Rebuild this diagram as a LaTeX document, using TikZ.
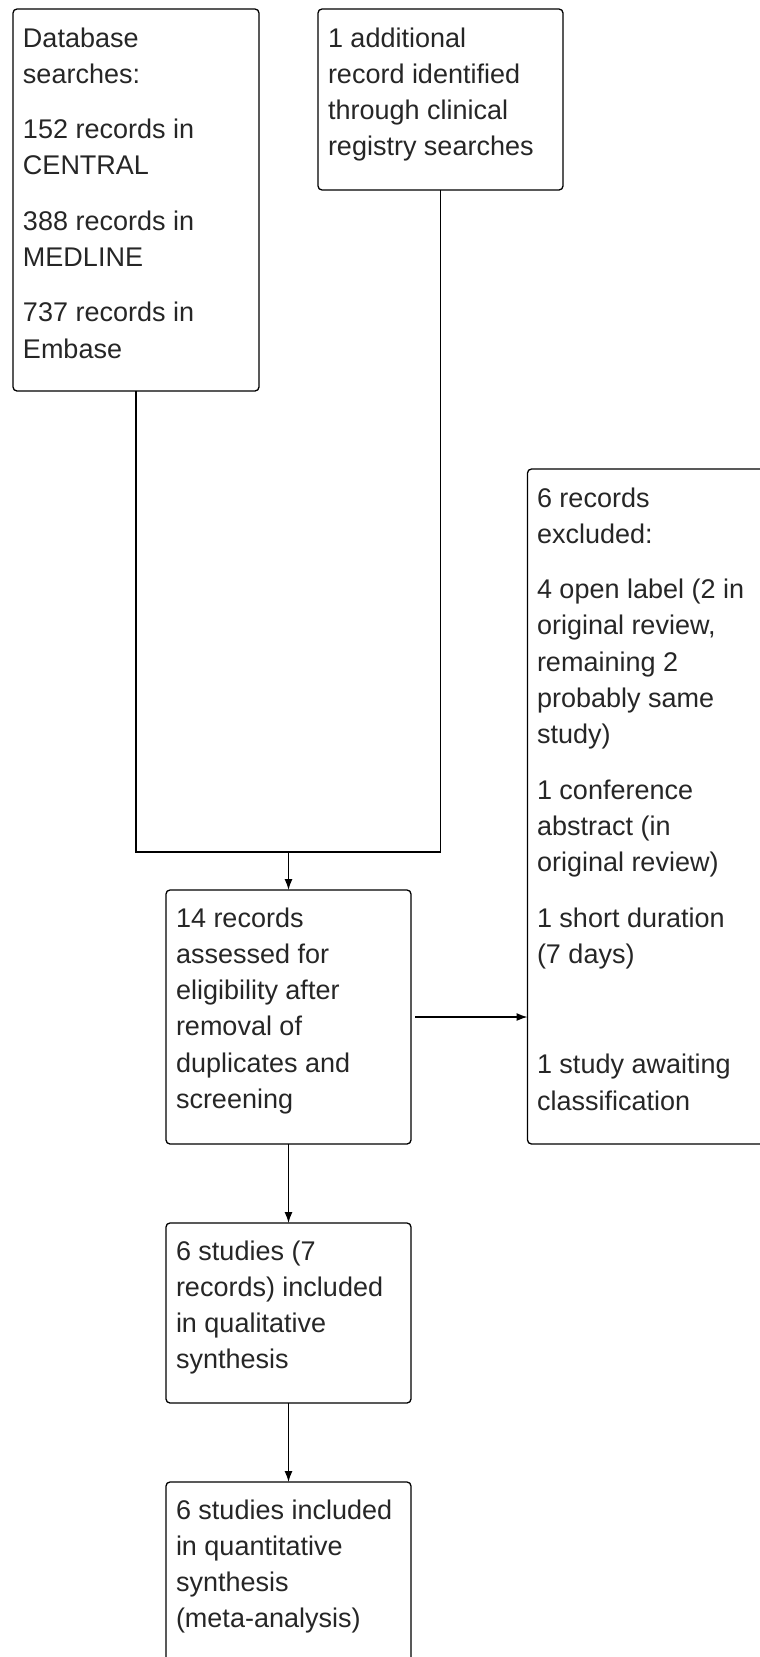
\documentclass[tikz,border=0pt]{standalone}
\usepackage{fontspec}
\setmainfont{Liberation Sans}
\usetikzlibrary{arrows.meta}
\begin{document}
\begin{tikzpicture}[x=1pt,y=-1pt,
  box/.style={draw=black,line width=1.3pt,rounded corners=4pt,rectangle,
    anchor=north west,inner sep=0pt,outer sep=0pt},
  txt/.style={anchor=north west,inner sep=0pt,outer sep=0pt,align=left,
    font=\fontsize{27}{36.3}\selectfont,text=black!85},
  link/.style={line width=1.3pt,draw=black},
  arr/.style={link,-{Latex[length=11pt,width=8pt]}}]
\useasboundingbox (0,0) rectangle (760,1657);
\newcommand{\tstrut}{\rule{0pt}{25pt}}
% boxes
\node[box,minimum width=246pt,minimum height=382pt] (boxA) at (13,9) {};
\node[box,minimum width=245pt,minimum height=181pt] (boxB) at (318,9) {};
\node[box,minimum width=260pt,minimum height=675pt] (boxC) at (527.5,469) {};
\node[box,minimum width=245pt,minimum height=254pt] (boxD) at (166,890) {};
\node[box,minimum width=245pt,minimum height=180pt] (boxE) at (166,1223) {};
\node[box,minimum width=245pt,minimum height=220pt] (boxF) at (166,1482) {};
% texts
\node[txt] (tA) at (23,22) {\tstrut Database\\searches:\\[19pt]152 records in\\CENTRAL\\[19pt]388 records in\\MEDLINE\\[19pt]737 records in\\Embase};
\node[txt] (tB) at (328,22) {\tstrut 1 additional\\record identified\\through clinical\\registry searches};
\node[txt] (tC) at (537,482) {\tstrut 6 records\\excluded:\\[19pt]4 open label (2 in\\original review,\\remaining 2\\probably same\\study)\\[19pt]1 conference\\abstract (in\\original review)\\[19pt]1 short duration\\(7 days)\\[19pt]~\\[19pt]1 study awaiting\\classification};
\node[txt] (tD) at (176,902) {\tstrut 14 records\\assessed for\\eligibility after\\removal of\\duplicates and\\screening};
\node[txt] (tE) at (176,1235) {\tstrut 6 studies (7\\records) included\\in qualitative\\synthesis};
\node[txt] (tF) at (176,1494) {\tstrut 6 studies included\\in quantitative\\synthesis\\(meta-analysis)};
% connectors
\coordinate (jn) at (boxD.north |- 0,852);
\draw[link] (boxA.south) |- (jn) -| (boxB.south);
\draw[arr] (jn) -- (boxD.north);
\draw[arr] ([xshift=4pt]boxD.east) -- (boxD.east -| boxC.west);
\draw[arr] (boxD.south) -- (boxE.north);
\draw[arr] (boxE.south) -- (boxF.north);
\end{tikzpicture}
\end{document}
